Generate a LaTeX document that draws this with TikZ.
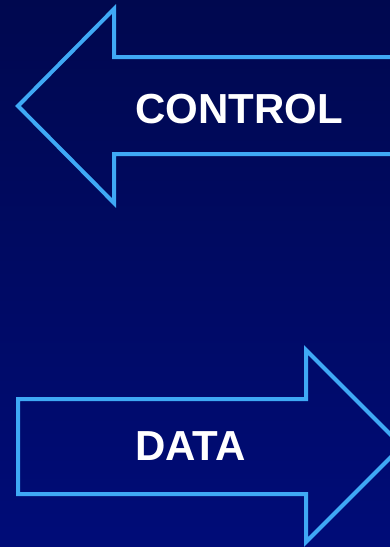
\documentclass[tikz,border=0pt]{standalone}
\usepackage{fontspec}
\setmainfont{Liberation Sans}
\definecolor{bgtop}{HTML}{00084F}
\definecolor{bgbot}{HTML}{000C78}
\definecolor{edge}{HTML}{3FA9F5}
\begin{document}
\begin{tikzpicture}[x=1pt,y=-1pt,
  arrowshape/.style={draw=edge,line width=4pt,line join=miter},
  label/.style={text=white,font=\bfseries\fontsize{42}{42}\selectfont,inner sep=0pt,anchor=base west}]
\shade[top color=bgtop,bottom color=bgbot] (0,0) rectangle (390,547);
\useasboundingbox (0,0) rectangle (390,547);
\begin{scope}
\clip (0,0) rectangle (390,547);
% CONTROL arrow (pointing left)
\draw[arrowshape] (18,106) -- (114,9) -- (114,57) -- (410,57) -- (410,154) -- (114,154) -- (114,203) -- cycle;
% DATA arrow (pointing right)
\draw[arrowshape] (18,399) -- (306,399) -- (306,350) -- (402,446) -- (306,542) -- (306,494) -- (18,494) -- cycle;
\end{scope}
\node[label] (control) at (135,123) {CONTROL};
\node[label] (data) at (135,460) {DATA};
\end{tikzpicture}
\end{document}
